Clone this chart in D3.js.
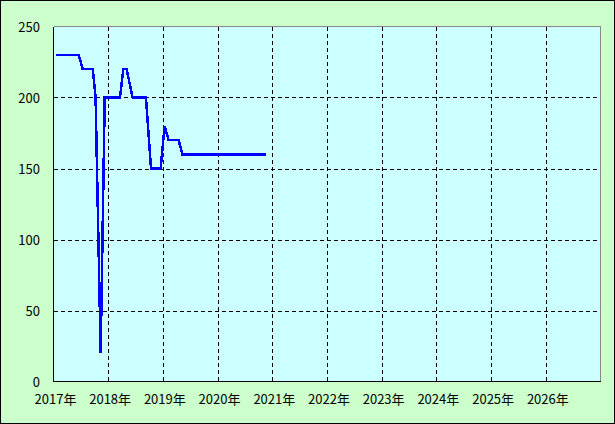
<!DOCTYPE html>
<html><head><meta charset="utf-8">
<script src="https://cdn.jsdelivr.net/npm/d3@7"></script>
<style>
html,body{margin:0;padding:0;background:#fff;}
svg{display:block;}
text{font-family:"Noto Sans CJK JP","Noto Sans",sans-serif;font-size:13px;fill:#000;}
</style></head>
<body>
<svg id="c" width="615" height="424"></svg>
<script>
const dates = ["2017-01-17","2017-06-18","2017-07-15","2017-09-20","2017-10-09","2017-11-12","2017-12-09",
  "2018-03-21","2018-04-12","2018-05-04","2018-06-13","2018-09-10","2018-10-14","2018-12-17",
  "2019-01-13","2019-02-08","2019-04-16","2019-05-12","2020-11-19"];
const values = [230,230,220,220,200,20,200,
  200,220,220,200,200,150,150,
  180,170,170,160,160];
const xTickYears = [2017,2018,2019,2020,2021,2022,2023,2024,2025,2026];
const yTicks = [0,50,100,150,200,250];

const W = 615, H = 424;
const L = 53.5, R = 600.5, T = 26.5, B = 381.5;
const svg = d3.select("#c");
svg.append("rect").attr("x",0.5).attr("y",0.5).attr("width",W-1).attr("height",H-1)
  .attr("fill","#ccffcc").attr("stroke","#000");
svg.append("rect").attr("x",L).attr("y",T).attr("width",R-L).attr("height",B-T).attr("fill","#ccffff");

const parse = d3.timeParse("%Y-%m-%d");
const x = d3.scaleTime().domain([new Date(2017,0,1), new Date(2027,0,1)]).range([L,R]);
const y = d3.scaleLinear().domain([0,250]).range([B,T]);

const g = svg.append("g").attr("shape-rendering","crispEdges");
// grid
g.selectAll(".vg").data(xTickYears.slice(1)).enter().append("line")
  .attr("x1",d=>Math.round(x(new Date(d,0,1)))+0.5).attr("x2",d=>Math.round(x(new Date(d,0,1)))+0.5)
  .attr("y1",T).attr("y2",B).attr("stroke","#000").attr("stroke-dasharray","4,3");
g.selectAll(".hg").data(yTicks.slice(1,-1)).enter().append("line")
  .attr("y1",d=>Math.round(y(d))+0.5).attr("y2",d=>Math.round(y(d))+0.5)
  .attr("x1",L).attr("x2",R).attr("stroke","#000").attr("stroke-dasharray","4,3");
// borders
g.append("line").attr("x1",L).attr("x2",R).attr("y1",T).attr("y2",T).attr("stroke","#888");
g.append("line").attr("x1",R).attr("x2",R).attr("y1",T).attr("y2",B).attr("stroke","#888");
g.append("line").attr("x1",L).attr("x2",L).attr("y1",T).attr("y2",B).attr("stroke","#000");
g.append("line").attr("x1",L).attr("x2",R).attr("y1",B).attr("y2",B).attr("stroke","#000");

// labels
svg.selectAll(".yl").data(yTicks).enter().append("text")
  .attr("x",40).attr("y",d=>y(d)+5.5).attr("text-anchor","end").text(d=>d);
svg.selectAll(".xl").data(xTickYears).enter().append("text")
  .attr("x",d=>x(new Date(d,0,1))+2).attr("y",404).attr("text-anchor","middle").text(d=>d+"年");

// line
const pts = dates.map((d,i)=>({d:parse(d),v:values[i]}));
svg.append("path").datum(pts)
  .attr("d",d3.line().x(p=>x(p.d)).y(p=>y(p.v)))
  .attr("fill","none").attr("stroke","#0000ff").attr("stroke-width",2.5)
  .attr("stroke-linejoin","miter").attr("shape-rendering","crispEdges");
</script>
</body></html>
